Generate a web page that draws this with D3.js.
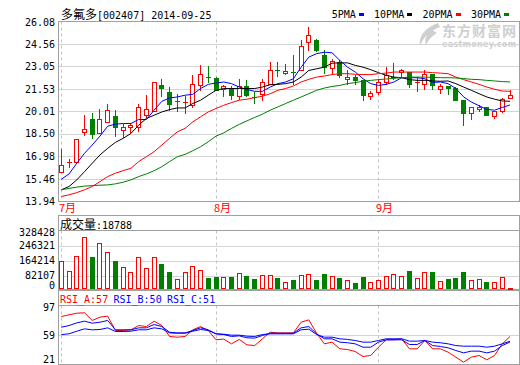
<!DOCTYPE html>
<html><head><meta charset="utf-8">
<script src="https://cdn.jsdelivr.net/npm/d3@7"></script>
<style>body{margin:0;background:#fff}svg{display:block}</style>
</head><body>
<svg id="c" width="520" height="365"></svg>
<script>
// ---------- data ----------
const opens  = [15.95,16.60,16.63,18.60,19.49,18.53,19.29,19.74,18.76,18.94,18.98,19.76,20.05,21.78,21.33,20.70,20.62,20.43,21.82,22.36,22.29,21.56,21.56,21.04,21.76,21.02,21.17,21.89,22.80,22.60,22.70,22.83,24.68,24.85,23.79,22.94,23.34,22.20,22.33,22.11,21.04,21.33,22.00,22.27,22.65,22.67,21.93,21.84,22.52,21.56,21.76,21.60,20.77,19.88,20.20,20.28,19.70,20.05,20.95];
const highs  = [17.46,16.79,18.15,19.76,19.88,20.21,20.50,20.10,19.20,19.20,20.50,21.11,22.03,22.18,21.66,21.22,21.04,22.45,23.12,23.05,22.33,21.78,21.71,22.23,22.11,21.33,22.23,23.34,23.34,23.23,23.79,24.80,25.74,24.91,24.13,23.52,23.45,22.78,22.45,22.11,21.39,22.23,23.01,23.27,22.85,22.67,22.33,22.78,22.52,21.84,21.76,21.66,20.77,20.28,20.43,20.32,20.05,20.95,21.44];
const lows   = [15.95,16.29,16.56,18.42,18.20,18.53,19.29,18.37,18.26,18.60,18.71,19.65,20.05,21.04,20.10,20.05,19.88,20.32,21.44,22.00,21.44,21.04,20.84,20.88,21.04,20.59,20.77,21.84,22.38,22.52,21.89,22.83,24.18,24.08,22.63,22.56,22.33,21.89,21.89,20.77,20.88,21.22,21.89,22.23,22.33,21.66,21.39,21.56,21.56,21.26,21.22,20.77,19.09,19.49,20.05,19.76,19.54,19.98,20.95];
const closes = [16.40,16.63,18.15,18.80,18.51,19.51,20.08,18.98,18.96,19.07,20.28,20.15,21.98,21.58,20.52,20.75,20.66,21.89,22.56,22.30,21.49,21.71,21.11,21.71,21.11,20.97,22.00,22.78,22.75,22.72,22.64,24.40,25.18,24.19,23.01,23.39,22.45,22.33,22.11,21.11,21.26,22.00,22.45,22.31,22.78,21.89,21.97,22.56,21.78,21.73,21.58,20.77,19.92,20.28,20.30,19.76,20.05,20.82,21.15];
const volumes = [164800,110700,191800,290800,182800,262000,213400,164800,132400,103600,186400,127000,186400,148600,105300,65700,103600,137800,114400,69300,74700,78300,74700,98200,80100,63900,85500,89100,72900,51300,62100,89100,94500,62100,94500,83700,72900,62100,45900,78300,49500,60300,83700,94500,80100,110700,69300,105300,101700,56700,67500,72900,105300,62100,67500,51300,51300,78300,18788];
const ma5  = [15.44,15.80,16.52,17.19,17.75,18.35,19.02,19.16,19.20,19.20,19.47,19.47,20.10,20.70,20.92,20.99,21.11,21.17,21.56,21.84,21.93,22.00,21.89,21.66,21.49,21.37,21.37,21.66,21.89,22.00,22.22,23.00,23.68,23.91,24.01,23.97,23.46,23.00,22.67,22.22,21.89,21.77,21.84,22.00,22.29,22.29,22.29,22.22,21.97,22.00,21.89,21.56,21.00,20.65,20.40,20.15,20.10,20.28,20.45];
const ma10 = [14.73,14.95,15.40,15.95,16.52,17.08,17.53,17.93,18.20,18.53,19.09,19.54,19.76,19.98,20.14,20.25,20.25,20.55,20.77,21.11,21.44,21.56,21.56,21.56,21.56,21.56,21.66,21.82,21.84,21.89,22.00,22.33,22.78,22.89,23.00,23.27,23.29,23.29,23.12,23.00,22.83,22.63,22.45,22.33,22.29,22.16,22.11,22.11,22.07,22.05,22.07,21.89,21.66,21.44,21.21,20.99,20.84,20.72,20.70];
const ma20 = [14.28,14.39,14.54,14.73,14.95,15.28,15.62,15.85,16.02,16.18,16.63,16.96,17.30,17.75,18.20,18.64,18.87,19.31,19.65,19.98,20.21,20.43,20.61,20.77,20.84,20.95,21.04,21.21,21.44,21.56,21.73,22.00,22.18,22.33,22.40,22.50,22.56,22.56,22.52,22.50,22.50,22.56,22.60,22.67,22.67,22.67,22.67,22.67,22.63,22.60,22.56,22.33,22.16,22.00,21.84,21.66,21.51,21.39,21.37];
const ma30 = [14.73,14.82,14.91,14.98,15.01,15.04,15.06,15.13,15.24,15.40,15.62,15.80,16.02,16.29,16.63,16.96,17.12,17.37,17.63,17.97,18.35,18.57,18.87,19.14,19.38,19.61,19.83,20.10,20.32,20.55,20.77,20.99,21.21,21.44,21.59,21.70,21.77,21.89,21.96,22.05,22.11,22.16,22.20,22.25,22.29,22.33,22.33,22.33,22.31,22.29,22.29,22.27,22.23,22.18,22.16,22.11,22.07,22.03,22.00];
const rsiA = [82.8,85,87.1,87.6,77.7,82,83.2,64.8,64.8,65.7,71.2,69.9,76.8,71.2,57.1,56.2,57.1,65.7,69.9,64.8,52.8,53.7,47.6,53.3,46.3,45.4,54.1,62.6,61.7,61.7,61.7,75.5,78.5,61.3,47.6,49.8,41.2,40.3,37.7,31.3,32.6,43.3,52.8,52.8,54.1,41.2,41.2,51.9,41.2,41.2,36.9,30.4,24,30.4,32.6,27,32.6,47.6,57];
const rsiB = [69,71.2,74.6,76.8,74.2,75.5,77.7,65.7,65.7,65.7,68.2,68.2,72.5,69.9,62.6,61.7,61.7,64.8,68.2,65.7,60.5,59.6,57.1,57.9,55.4,55,58.4,61.3,61.3,61.3,61.3,68.2,69.9,60.5,54.1,54.1,49.8,49,47.6,43.3,43.3,49.8,52.8,52.8,52.8,46.8,46.8,51.9,45.4,44.2,42.5,39,36,38.2,38.2,36,38.2,45.4,50];
const rsiC = [59.6,60.5,63.9,66.9,65.7,66.1,68.2,63.5,63.5,63.9,65.7,65.7,68.2,66.9,61.7,61.3,61.3,63.9,66.1,64.8,60.5,60,58.8,58.8,57.5,57.1,59.6,60.5,60.5,60.5,60.5,65.7,66.5,59.6,56.2,56.2,54.1,53.3,51.9,49.8,49.8,51.9,54.1,54.1,54.1,51.1,51.1,51.9,49.8,49,47.6,45.4,44.6,44.6,44.6,43.3,44.6,47.6,51];
const priceTicks = [13.94,15.46,16.98,18.50,20.01,21.53,23.05,24.56,26.08];
const volTicks = [0,82107,164214,246321,328428];
const rsiTicks = [21,59,97];
const monthLabels = ["7月","8月","9月"];
const monthIdx = [0,20,41];
const legendLabels = ["5PMA","10PMA","20PMA","30PMA"];
const titleName = "多氟多", titleCode = "[002407] 2014-09-25";
const volName = "成交量", volLast = 18788;
const rsiNames = ["RSI_A","RSI_B","RSI_C"], rsiLast = [57,50,51];

// ---------- styles ----------
const RED="#ff0000", GREEN="#008000", BLUE="#0000ff", BLACK="#000000";
const maColors=[BLUE,BLACK,RED,GREEN];
const FRAME="#a0a0a0", GRID="#d4d4d4", DASH="#c4c4c4";
const MONO="'DejaVu Sans Mono', 'Liberation Mono', monospace";
const CJK="'Noto Sans CJK SC', sans-serif";
const L=58.5, R=519.5;
const crisp=v=>Math.round(v)+0.5;

const svg=d3.select("#c");
svg.append("rect").attr("width",520).attr("height",365).attr("fill","#fff");

const n=closes.length;
const x=d3.scaleLinear().domain([0,n-1]).range([60.8,509.5]);
const yP=d3.scaleLinear().domain([13.94,26.08]).range([201.5,21.5]);
const yV=d3.scaleLinear().domain([0,328428]).range([291,230.5]);
const yR=d3.scaleLinear().domain([21,97]).range([364.5,305.5]);

// watermark
const wm=svg.append("g").attr("fill","#cfcfcf");
wm.append("path").attr("d","M438,23 C426,27 418,36 420,46 C423,38 429,31 440,27 Z M432,30 C426,34 424,40 426,45 C428,40 432,36 437,33 Z");
wm.append("text").attr("x",442).attr("y",36).attr("font-family",CJK).attr("font-weight","bold")
  .attr("font-size",14).attr("textLength",74).text("东方财富网");
wm.append("text").attr("x",442).attr("y",47).attr("font-family","'DejaVu Sans', sans-serif").attr("font-weight","bold")
  .attr("font-size",8).attr("textLength",74).text("eastmoney.com");

// ---------- panels ----------
function gridH(vals, scale){
  svg.append("g").selectAll("line").data(vals).join("line")
    .attr("x1",L).attr("x2",R).attr("y1",d=>crisp(scale(d))).attr("y2",d=>crisp(scale(d)))
    .attr("stroke",GRID).attr("stroke-width",1);
}
gridH(priceTicks.slice(1,-1), yP);
gridH(volTicks.slice(1,-1), yV);
gridH([59], yR);

// dashed month lines
const segs=[[21.5,201.5],[230.5,289.5],[305.5,364.5]];
monthIdx.forEach(i=>{
  segs.forEach(s=>{
    svg.append("line").attr("x1",crisp(x(i))).attr("x2",crisp(x(i))).attr("y1",s[0]).attr("y2",s[1])
      .attr("stroke",DASH).attr("stroke-dasharray","3,3");
  });
});

// frames
svg.append("rect").attr("x",L).attr("y",21.5).attr("width",R-L).attr("height",180).attr("fill","none").attr("stroke",FRAME);
svg.append("rect").attr("x",L).attr("y",215.5).attr("width",R-L).attr("height",74).attr("fill","none").attr("stroke",FRAME);
svg.append("line").attr("x1",L).attr("x2",R).attr("y1",230.5).attr("y2",230.5).attr("stroke",FRAME);
svg.append("rect").attr("x",L).attr("y",290.5).attr("width",R-L).attr("height",74).attr("fill","none").attr("stroke",FRAME);
svg.append("line").attr("x1",L).attr("x2",R).attr("y1",305.5).attr("y2",305.5).attr("stroke",FRAME);

// ---------- y labels ----------
function yLabels(vals, scale, lo, hi, fmt){
  svg.append("g").selectAll("text").data(vals).join("text")
    .attr("x",55).attr("y",d=>Math.max(lo,Math.min(hi,scale(d)))).attr("dy","0.36em")
    .attr("text-anchor","end").attr("font-family",MONO).attr("font-size",10).attr("fill","#000")
    .text(fmt);
}
yLabels(priceTicks, yP, 22.8, 201.5, d=>d.toFixed(2));
yLabels(volTicks, yV, 232.5, 285.7, d=>String(d));
yLabels(rsiTicks, yR, 307, 359.5, d=>String(d));

// month labels
svg.append("g").selectAll("text").data(monthIdx).join("text")
  .attr("x",i=>Math.round(x(i))-2).attr("y",212).attr("font-family",CJK).attr("font-size",11)
  .attr("fill",RED).text((d,k)=>monthLabels[k]);

// ---------- candles ----------
const cg=svg.append("g");
for(let i=0;i<n;i++){
  const cx=Math.round(x(i)), up=closes[i]>=opens[i], col=up?RED:GREEN;
  cg.append("line").attr("x1",cx+0.5).attr("x2",cx+0.5)
    .attr("y1",Math.round(yP(highs[i]))).attr("y2",Math.round(yP(lows[i]))+1).attr("stroke",col);
  const yt=Math.round(yP(Math.max(opens[i],closes[i]))), yb=Math.round(yP(Math.min(opens[i],closes[i])));
  if(yb-yt<2){
    cg.append("line").attr("x1",cx-2).attr("x2",cx+3).attr("y1",yt+0.5).attr("y2",yt+0.5).attr("stroke",col);
  } else if(up){
    cg.append("rect").attr("x",cx-1.5).attr("y",yt+0.5).attr("width",4).attr("height",yb-yt)
      .attr("fill","#fff").attr("stroke",col);
  } else {
    cg.append("rect").attr("x",cx-2).attr("y",yt).attr("width",5).attr("height",yb-yt+1).attr("fill",col);
  }
}
// moving averages
[ma5,ma10,ma20,ma30].forEach((arr,k)=>{
  svg.append("path").datum(arr)
    .attr("d",d3.line().x((d,i)=>x(i)+0.5).y(d=>yP(d)))
    .attr("fill","none").attr("stroke",maColors[k]).attr("stroke-width",1);
});

// ---------- volume ----------
const vg=svg.append("g");
volumes.forEach((v,i)=>{
  const cx=Math.round(x(i)), up=closes[i]>=opens[i];
  const top=Math.round(yV(v));
  if(up){
    vg.append("rect").attr("x",cx-1.5).attr("y",top+0.5).attr("width",4).attr("height",Math.max(1,288.5-(top+0.5)))
      .attr("fill","#fff").attr("stroke",RED);
  } else {
    vg.append("rect").attr("x",cx-2).attr("y",top).attr("width",5).attr("height",289-top).attr("fill",GREEN);
  }
});

// ---------- RSI ----------
[[rsiA,RED],[rsiB,BLUE],[rsiC,BLUE]].forEach(([arr,col])=>{
  svg.append("path").datum(arr)
    .attr("d",d3.line().x((d,i)=>x(i)+0.5).y(d=>yR(d)))
    .attr("fill","none").attr("stroke",col).attr("stroke-width",1);
});

// ---------- headers ----------
const t=svg.append("text").attr("x",61).attr("y",19).attr("fill","#000");
t.append("tspan").attr("font-family",CJK).attr("font-size",12).text(titleName);
t.append("tspan").attr("font-family",MONO).attr("font-size",10).text(titleCode);

let lx=331.7;
legendLabels.forEach((lab,k)=>{
  svg.append("text").attr("x",lx).attr("y",18).attr("font-family",MONO).attr("font-size",10).attr("fill","#000").text(lab);
  const w=lab.length*6.02;
  svg.append("rect").attr("x",Math.round(lx+w+3.3)).attr("y",13).attr("width",5).attr("height",3).attr("fill",maColors[k]);
  lx+=w+18.3;
});

const vt=svg.append("text").attr("x",60).attr("y",229).attr("fill","#000");
vt.append("tspan").attr("font-family",CJK).attr("font-size",12).text(volName);
vt.append("tspan").attr("font-family",MONO).attr("font-size",10).text(":"+volLast);

const rsiCols=[RED,BLUE,BLUE];
rsiNames.forEach((nm,k)=>{
  svg.append("text").attr("x",60+k*53.5).attr("y",303).attr("font-family",MONO).attr("font-size",10)
    .attr("fill",rsiCols[k]).text(nm+":"+rsiLast[k]);
});
</script>
</body></html>
